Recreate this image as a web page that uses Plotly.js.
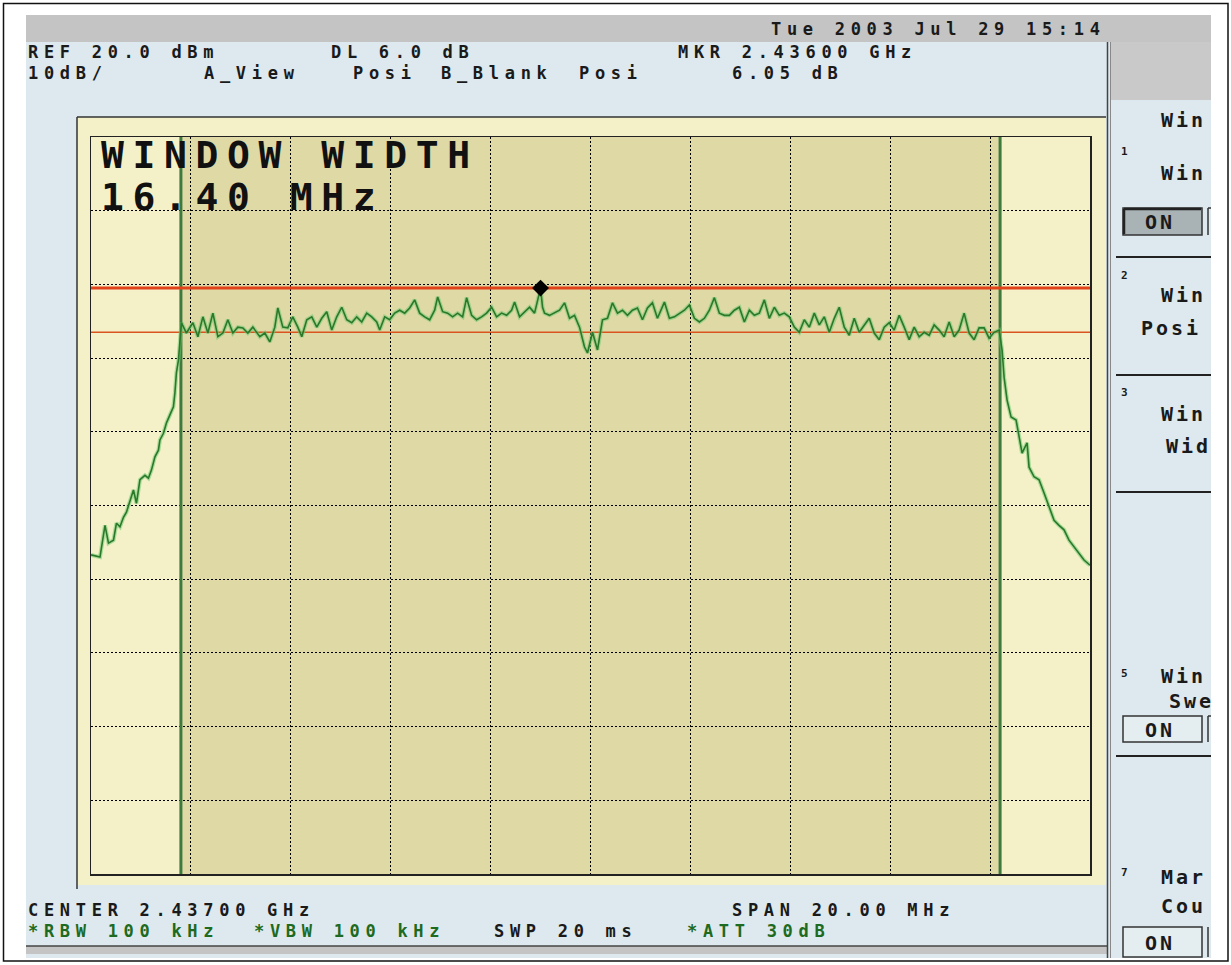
<!DOCTYPE html>
<html>
<head>
<meta charset="utf-8">
<script src="https://cdn.plot.ly/plotly-3.0.1.min.js"></script>
<style>
  html, body { margin: 0; padding: 0; background: #ffffff; }
  #chart { width: 1231px; height: 965px; }
  text.annotation-text[style*="font-size: 17px"] { letter-spacing: 5.7px; }
  text.annotation-text[style*="font-size: 20px"] { letter-spacing: 3px; }
  text.annotation-text[style*="font-size: 38px"] { letter-spacing: 8.6px; }
</style>
</head>
<body>
<div id="chart"></div>
<script>
// Sweep: center 2437 MHz, span 20 MHz, REF 20 dBm, 10 dB/div
const freqRangeMHz = [2427, 2447];
const levelRangeDbm = [-80, 20];

const leftSkirtFreq = [2427.00,2427.18,2427.28,2427.35,2427.45,2427.51,2427.58,2427.65,2427.71,2427.78,
                       2427.85,2427.91,2427.98,2428.08,2428.15,2428.21,2428.28,2428.35,2428.38,2428.45,
                       2428.51,2428.58,2428.65,2428.68,2428.71,2428.75,2428.78,2428.81];
const leftSkirtLevel = [-36.7,-37.0,-32.7,-35.1,-34.7,-32.4,-32.9,-31.6,-30.9,-29.3,
                        -27.9,-29.7,-26.5,-25.9,-26.3,-25.2,-23.4,-22.5,-21.1,-20.2,
                        -18.8,-17.7,-16.6,-14.7,-12.0,-10.3,-7.5,-5.2];

const bandFreq = [2428.91,2429.04,2429.14,2429.24,2429.34,2429.44,2429.54,2429.64,2429.74,2429.84,
                  2429.94,2430.04,2430.14,2430.24,2430.38,2430.48,2430.58,2430.68,2430.74,2430.84,
                  2430.94,2431.04,2431.14,2431.22,2431.32,2431.42,2431.52,2431.62,2431.72,2431.82,
                  2431.92,2432.02,2432.12,2432.22,2432.32,2432.42,2432.52,2432.62,2432.72,2432.78,
                  2432.88,2432.98,2433.08,2433.18,2433.28,2433.38,2433.48,2433.58,2433.68,2433.78,
                  2433.88,2433.94,2434.04,2434.14,2434.24,2434.34,2434.44,2434.52,2434.62,2434.72,
                  2434.82,2434.92,2435.02,2435.12,2435.22,2435.32,2435.42,2435.48,2435.58,2435.68,
                  2435.78,2435.88,2436.00,2436.04,2436.08,2436.18,2436.28,2436.38,2436.48,2436.58,
                  2436.68,2436.78,2436.88,2436.94,2437.04,2437.14,2437.24,2437.34,2437.44,2437.54,
                  2437.64,2437.74,2437.84,2437.94,2438.04,2438.14,2438.24,2438.34,2438.48,2438.58,
                  2438.68,2438.78,2438.88,2438.98,2439.08,2439.18,2439.28,2439.38,2439.48,2439.58,
                  2439.68,2439.78,2439.88,2439.98,2440.08,2440.18,2440.28,2440.38,2440.48,2440.58,
                  2440.68,2440.78,2440.88,2440.98,2441.08,2441.18,2441.28,2441.38,2441.48,2441.58,
                  2441.68,2441.78,2441.88,2441.98,2442.08,2442.18,2442.28,2442.38,2442.48,2442.58,
                  2442.68,2442.78,2442.88,2442.98,2443.08,2443.18,2443.28,2443.38,2443.48,2443.58,
                  2443.68,2443.78,2443.88,2443.98,2444.08,2444.18,2444.28,2444.38,2444.48,2444.58,
                  2444.68,2444.78,2444.88,2444.98,2445.08,2445.18,2445.24];
const bandLevel = [-6.6,-5.2,-7.1,-4.4,-6.6,-3.9,-7.1,-6.6,-4.8,-6.6,
                   -5.8,-5.9,-6.6,-5.8,-7.1,-6.6,-7.8,-5.8,-3.2,-5.8,
                   -5.9,-4.4,-5.8,-7.1,-4.8,-4.4,-5.8,-4.6,-3.7,-6.2,
                   -4.4,-3.1,-4.8,-5.2,-4.4,-5.1,-3.9,-4.4,-5.1,-6.2,
                   -4.4,-4.8,-3.9,-3.5,-3.9,-3.2,-2.1,-3.9,-4.4,-4.8,
                   -3.5,-1.7,-3.7,-3.9,-4.4,-3.9,-4.4,-1.8,-4.2,-4.8,
                   -4.4,-3.9,-3.1,-4.4,-3.9,-4.2,-3.5,-2.4,-4.4,-3.7,
                   -3.1,-3.9,-0.5,-3.1,-3.9,-4.2,-3.9,-3.5,-2.5,-4.6,
                   -4.2,-5.8,-8.5,-9.3,-6.5,-8.9,-4.8,-4.6,-2.5,-3.9,
                   -3.5,-4.2,-3.5,-3.2,-4.8,-3.2,-2.5,-4.6,-2.4,-4.6,
                   -4.4,-3.9,-3.5,-2.8,-4.6,-5.1,-4.6,-3.5,-1.8,-3.9,
                   -4.2,-4.2,-3.5,-3.1,-5.1,-3.5,-4.2,-3.9,-2.1,-4.6,
                   -3.1,-4.2,-3.9,-4.4,-5.8,-6.5,-4.8,-5.8,-3.9,-5.5,
                   -4.4,-6.5,-4.6,-3.1,-5.8,-6.9,-4.6,-6.5,-5.5,-4.6,
                   -6.6,-7.5,-5.8,-5.2,-6.2,-4.2,-5.8,-7.5,-5.8,-7.1,
                   -6.5,-6.9,-5.5,-6.2,-7.1,-5.1,-7.1,-6.2,-3.9,-6.6,
                   -7.5,-5.9,-5.9,-7.3,-6.5,-6.2,-8.9];

const rightSkirtFreq = [2445.28,2445.34,2445.42,2445.52,2445.58,2445.64,2445.74,2445.78,2445.88,2445.98,
                        2446.08,2446.18,2446.28,2446.38,2446.48,2446.58,2446.68,2446.78,2446.88,2447.00];
const rightSkirtLevel = [-12.6,-15.7,-18.0,-18.4,-20.7,-22.9,-21.5,-24.8,-26.1,-26.5,
                         -28.3,-30.2,-32.0,-32.7,-33.3,-34.7,-35.6,-36.5,-37.4,-38.1];

const windowEdgesMHz = [2428.80, 2445.20];   // WINDOW WIDTH 16.40 MHz
const displayLinesDbm = [-0.5, -6.5];        // marker level and DL 6.0 dB below
const markerFreqMHz = [2436.00];
const markerLevelDbm = [-0.5];

// texts on the screen
const headerDate = "Tue 2003 Jul 29 15:14";
const headerRow1 = ["REF 20.0 dBm", "DL 6.0 dB", "MKR 2.43600 GHz"];
const headerRow2 = ["10dB/", "A_View", "Posi", "B_Blank", "Posi", "6.05 dB"];
const windowText = ["WINDOW WIDTH", "16.40 MHz"];
const footerRow1 = ["CENTER 2.43700 GHz", "SPAN 20.00 MHz"];
const footerRow2 = ["*RBW 100 kHz", "*VBW 100 kHz", "SWP 20 ms", "*ATT 30dB"];
const softKeyLabels = ["Win", "Win", "ON", "Win", "Posi", "Win", "Wid", "Win", "Swe", "ON", "Mar", "Cou", "ON"];
const softKeyNumbers = ["1", "2", "3", "5", "7"];

// ---------------- drawing ----------------
const freq = leftSkirtFreq.concat(bandFreq, rightSkirtFreq);
const level = leftSkirtLevel.concat(bandLevel, rightSkirtLevel);

const W = 1231, H = 965;
const X = p => p / W;
const Y = p => 1 - p / H;

const MONO = "DejaVu Sans Mono, Liberation Mono, monospace";
const INK = "#1a1a1a";
const GREENTXT = "#1d6a20";

function rectP(x0, y0, x1, y1, fill, line) {
  return {type: 'rect', xref: 'paper', yref: 'paper', layer: 'below',
          x0: X(x0), x1: X(x1), y0: Y(y1), y1: Y(y0),
          fillcolor: fill, line: line || {width: 0}};
}
function lineP(x0, y0, x1, y1, color, width) {
  return {type: 'line', xref: 'paper', yref: 'paper', layer: 'below',
          x0: X(x0), x1: X(x1), y0: Y(y0), y1: Y(y1),
          line: {color: color, width: width}};
}
function txt(t, x, y, size, color, extra) {
  return Object.assign({text: t, xref: 'paper', yref: 'paper', x: X(x), y: Y(y),
          xanchor: 'left', yanchor: 'middle', align: 'left', showarrow: false,
          borderpad: 0,
          font: {family: MONO, size: size, color: color || INK, weight: 'bold'}}, extra || {});
}
function key(t, x, y) { return txt(t, x, y, 20, INK); }
function keyNum(t, x, y) { return txt(t, x, y, 11, INK); }
function keyOn(t, x, y) { return txt(t, x, y, 20, INK, {xanchor: 'center', align: 'center'}); }

const shapes = [
  rectP(3.5, 3.5, 1228, 961, '#ffffff', {color: '#111', width: 1.5}),
  rectP(26, 15, 1211, 958, '#dde9ee'),
  rectP(26, 15, 1211, 42, '#c4c4c4'),
  rectP(1111, 42, 1211, 100, '#c9c9c9'),
  rectP(26, 946, 1107, 954, '#c4c4c4'),
  lineP(26, 946, 1107, 946, '#444', 1.5),
  rectP(77, 117, 1106, 885, '#f4f1c9'),
  lineP(77, 117, 1106, 117, '#333', 1.5),
  lineP(77, 117, 77, 889, '#333', 1.5),
  lineP(1107.5, 42, 1107.5, 958, '#444', 1.5),
  lineP(1110.5, 42, 1110.5, 958, '#888', 1),
  // soft-key panel
  lineP(1116, 257, 1211, 257, '#222', 2),
  lineP(1116, 375, 1211, 375, '#222', 2),
  lineP(1116, 492, 1211, 492, '#222', 2),
  lineP(1116, 756, 1211, 756, '#222', 2),
  rectP(1123, 208, 1202, 235, '#a9b2b4', {color: '#333', width: 1.5}),
  lineP(1124, 209, 1201, 209, '#222', 2.5),
  lineP(1124, 209, 1124, 234, '#222', 2.5),
  lineP(1208, 208, 1208, 235, '#333', 1.5),
  lineP(1208, 208, 1211, 208, '#333', 1.5),
  rectP(1123, 716, 1202, 742, '#e4edf0', {color: '#333', width: 1.5}),
  lineP(1208, 716, 1208, 742, '#333', 1.5),
  lineP(1208, 716, 1211, 716, '#333', 1.5),
  rectP(1123, 927, 1202, 957, '#e4edf0', {color: '#333', width: 1.5}),
  lineP(1208, 927, 1208, 957, '#333', 1.5),
  // window shading and edges (data coordinates)
  {type: 'rect', xref: 'x', yref: 'y', layer: 'below',
   x0: windowEdgesMHz[0], x1: windowEdgesMHz[1], y0: levelRangeDbm[0], y1: levelRangeDbm[1],
   fillcolor: '#dfd9a6', line: {width: 0}},
  {type: 'line', xref: 'x', yref: 'y', layer: 'between',
   x0: windowEdgesMHz[0], x1: windowEdgesMHz[0], y0: levelRangeDbm[0], y1: levelRangeDbm[1],
   line: {color: '#3d7a3d', width: 3}},
  {type: 'line', xref: 'x', yref: 'y', layer: 'between',
   x0: windowEdgesMHz[1], x1: windowEdgesMHz[1], y0: levelRangeDbm[0], y1: levelRangeDbm[1],
   line: {color: '#3d7a3d', width: 3}},
  // display lines
  {type: 'line', xref: 'x', yref: 'y', layer: 'between',
   x0: freqRangeMHz[0], x1: freqRangeMHz[1], y0: displayLinesDbm[0], y1: displayLinesDbm[0],
   line: {color: '#e2421a', width: 3}},
  {type: 'line', xref: 'x', yref: 'y', layer: 'between',
   x0: freqRangeMHz[0], x1: freqRangeMHz[1], y0: displayLinesDbm[1], y1: displayLinesDbm[1],
   line: {color: '#d9541f', width: 1.5}}
];

const annotations = [
  txt(headerDate, 770, 29, 17),
  txt(headerRow1[0], 27, 52, 17),
  txt(headerRow1[1], 330, 52, 17),
  txt(headerRow1[2], 677, 52, 17),
  txt(headerRow2[0], 27, 73, 17),
  txt(headerRow2[1], 203, 73, 17),
  txt(headerRow2[2], 352, 73, 17),
  txt(headerRow2[3], 440, 73, 17),
  txt(headerRow2[4], 578, 73, 17),
  txt(headerRow2[5], 731, 73, 17),
  txt(windowText[0], 100, 155, 38, '#111'),
  txt(windowText[1], 100, 197, 38, '#111'),
  txt(footerRow1[0], 27, 910, 17),
  txt(footerRow1[1], 731, 910, 17),
  txt(footerRow2[0], 27, 931, 17, GREENTXT),
  txt(footerRow2[1], 253, 931, 17, GREENTXT),
  txt(footerRow2[2], 493, 931, 17),
  txt(footerRow2[3], 686, 931, 17, GREENTXT),
  // soft-key panel
  key(softKeyLabels[0], 1160, 120),
  keyNum(softKeyNumbers[0], 1120, 152),
  key(softKeyLabels[1], 1160, 173),
  keyOn(softKeyLabels[2], 1160, 222),
  keyNum(softKeyNumbers[1], 1120, 275),
  key(softKeyLabels[3], 1160, 295),
  key(softKeyLabels[4], 1140, 328),
  keyNum(softKeyNumbers[2], 1120, 392),
  key(softKeyLabels[5], 1160, 414),
  key(softKeyLabels[6], 1165, 446),
  keyNum(softKeyNumbers[3], 1120, 673),
  key(softKeyLabels[7], 1160, 676),
  key(softKeyLabels[8], 1168, 701),
  keyOn(softKeyLabels[9], 1160, 730),
  keyNum(softKeyNumbers[4], 1120, 872),
  key(softKeyLabels[10], 1160, 877),
  key(softKeyLabels[11], 1160, 906),
  keyOn(softKeyLabels[12], 1160, 943)
];

const traces = [
  {type: 'scatter', mode: 'lines', x: freq, y: level, hoverinfo: 'skip',
   line: {color: 'rgba(110,200,110,0.55)', width: 4}},
  {type: 'scatter', mode: 'lines', x: freq, y: level, hoverinfo: 'skip',
   line: {color: '#2a782a', width: 1.6}},
  {type: 'scatter', mode: 'markers', x: markerFreqMHz, y: markerLevelDbm, hoverinfo: 'skip',
   marker: {symbol: 'diamond', size: 13, color: '#000'}}
];

const axisCommon = {
  showgrid: true, gridcolor: '#000', gridwidth: 1, griddash: '2px,2px',
  showline: true, linecolor: '#222', linewidth: 1.5, mirror: true,
  showticklabels: false, ticks: '', zeroline: false, fixedrange: true
};

const layout = {
  width: W, height: H,
  margin: {l: 0, r: 0, t: 0, b: 0},
  paper_bgcolor: '#ffffff', plot_bgcolor: 'rgba(0,0,0,0)',
  showlegend: false,
  xaxis: Object.assign({}, axisCommon, {domain: [X(91), X(1090)], range: freqRangeMHz, tick0: 2427, dtick: 2}),
  yaxis: Object.assign({}, axisCommon, {domain: [Y(874), Y(137)], range: levelRangeDbm, tick0: -80, dtick: 10}),
  shapes: shapes,
  annotations: annotations
};

Plotly.newPlot('chart', traces, layout, {staticPlot: true, displayModeBar: false});
</script>
</body>
</html>
